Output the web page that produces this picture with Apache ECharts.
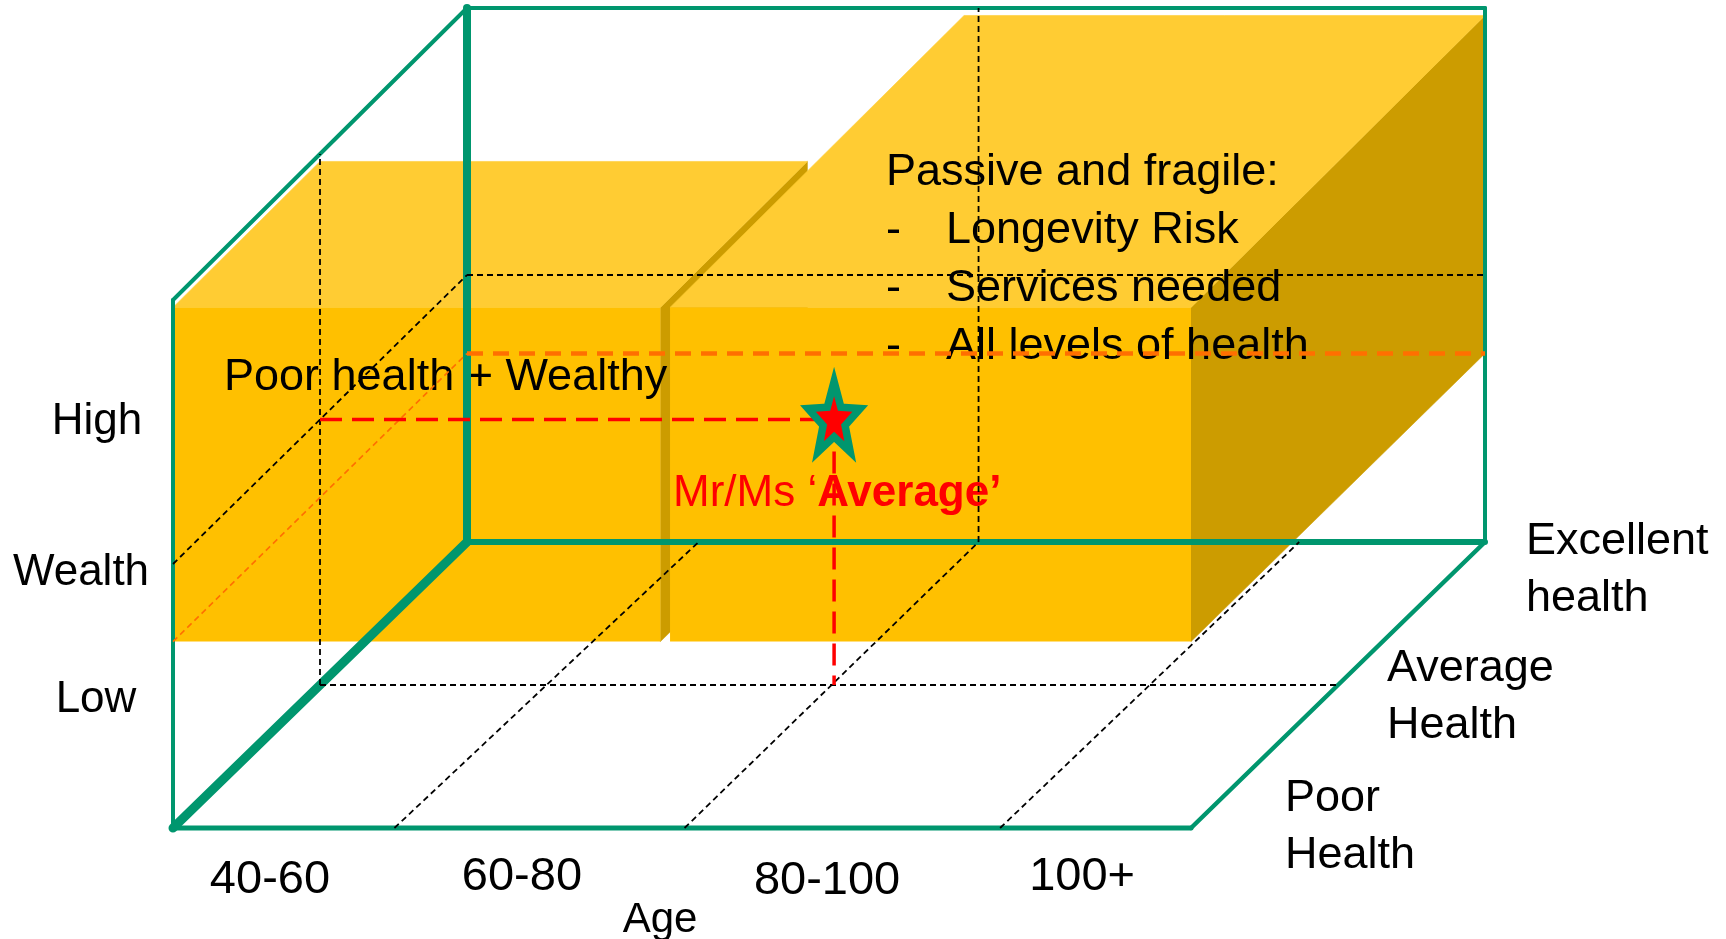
<!DOCTYPE html>
<html>
<head>
<meta charset="utf-8">
<title>Wealth, age and health segments</title>
<style>
  html, body { margin: 0; padding: 0; background: #ffffff; }
  #chart { width: 1726px; height: 939px; }
</style>
<script src="https://cdn.jsdelivr.net/npm/echarts@6/dist/echarts.min.js"></script>
</head>
<body>
<div id="chart"></div>
<script>
// ---------------------------------------------------------------------------
// Data: three axes — age bands (0..4), health (0 = poor .. 1 = excellent,
// drawn as depth) and wealth (0 = low .. 1 = high, drawn upwards).
// ---------------------------------------------------------------------------
const AGE_BANDS = ['40-60', '60-80', '80-100', '100+'];
const AGE_NAME = 'Age';
const HEALTH_LEVELS = ['Poor\nHealth', 'Average\nHealth', 'Excellent\nhealth'];
const WEALTH_TICKS = ['Low', 'High'];
const WEALTH_NAME = 'Wealth';

// Segment blocks: [ageFrom, ageTo, healthFrom, healthTo, wealthFrom, wealthTo]
const SEGMENTS = [
  [0, 1.915, 0, 0.5, 0.353, 0.986],
  [1.953, 4, 0, 1, 0.353, 0.986]
];
const SEGMENT_NOTES = [
  ['Poor health + Wealthy'],
  ['Passive and fragile:', 'Longevity Risk', 'Services needed', 'All levels of health']
];

// The average person: [age, health, wealth]
const AVERAGE_PERSON = [2.02, 0.5, 0.5];
const AVERAGE_LABEL = ['Mr/Ms \u2018', 'Average\u2019'];

// Level of the segment floor, traced on the left and back walls
const SEGMENT_FLOOR_WEALTH = 0.353;

// Box edges: pairs of [age, health, wealth] corners
const FRAME_EDGES = [
  [[0, 0, 0], [4, 0, 0]],
  [[4, 0, 0], [4, 1, 0]],
  [[0, 1, 0], [4, 1, 0]],
  [[0, 0, 0], [0, 1, 0]],
  [[0, 0, 0], [0, 0, 1]],
  [[0, 1, 0], [0, 1, 1]],
  [[4, 1, 0], [4, 1, 1]],
  [[0, 0, 1], [0, 1, 1]],
  [[0, 1, 1], [4, 1, 1]]
];

// Dashed reference lines inside the box
const GRID_GUIDES = [
  [[0, 0.5, 0], [0, 0.5, 1]],
  [[0, 0.5, 0], [4, 0.5, 0]],
  [[0, 0, 0.5], [0, 1, 0.5]],
  [[0, 1, 0.5], [4, 1, 0.5]],
  [[2.01, 1, 0], [2.01, 1, 1]],
  [[0.87, 0, 0], [0.91, 1, 0]],
  [[2.01, 0, 0], [2.01, 1, 0]],
  [[3.25, 0, 0], [3.27, 1, 0]]
];

// ---------------------------------------------------------------------------
// Oblique projection: health depth shifts a point right and up; the upward
// shift grows a little with wealth so the top of the box recedes further.
// Chart x is measured in age bands, chart y in wealth.
// ---------------------------------------------------------------------------
const AGE_PX = 254.5, WEALTH_PX = 528, ORIGIN_X = 173, ORIGIN_Y = 828;
const DEPTH_X = 294 / AGE_PX;
const W = 1726, H = 939;

function depthY(w) { return (286 + 6 * w) / WEALTH_PX; }
function project(p) {
  return [p[0] + DEPTH_X * p[1], p[2] + depthY(p[2]) * p[1]];
}

// Styles
const FONT = "'Liberation Sans', Arial, Helvetica, sans-serif";
const GREEN = '#00966E';
const FRONT = '#FFC000', TOP = '#FFCC33', SIDE = '#CC9C00';
const ORANGE = '#FF6F00', RED = '#FF0000';
const FRAME_WIDTHS = [5, 4.5, 6, 9, 4, 8, 4, 4, 4];
const TEXT_SHIFT = 4;

const segmentFloorGuides = [
  [[0, 0, SEGMENT_FLOOR_WEALTH], [0, 1, SEGMENT_FLOOR_WEALTH]],
  [[0, 1, SEGMENT_FLOOR_WEALTH], [4, 1, SEGMENT_FLOOR_WEALTH]]
];
const segmentFloorStyles = [
  { stroke: ORANGE, lineWidth: 1.6, lineDash: [6, 4] },
  { stroke: ORANGE, lineWidth: 4.5, lineDash: [16, 10] }
];
const [pa, ph, pw] = AVERAGE_PERSON;
const averageGuides = [
  [[0, ph, pw], [pa, ph, pw]],
  [[pa, ph, pw], [pa, ph, 0]]
];

function segmentSeries(segments, styleAt, z) {
  return {
    type: 'custom', z: z, silent: true, clip: false, animation: false,
    data: segments.map(([p, q]) => [...p, ...q]),
    renderItem(params, api) {
      const p = api.coord(project([api.value(0), api.value(1), api.value(2)]));
      const q = api.coord(project([api.value(3), api.value(4), api.value(5)]));
      return {
        type: 'line',
        shape: { x1: p[0], y1: p[1], x2: q[0], y2: q[1] },
        style: Object.assign({ fill: null, lineCap: 'round' }, styleAt(params.dataIndex))
      };
    }
  };
}

// Text placed at [age, health, wealth] anchors
const T = (text, at, opts) => Object.assign({ text, at }, opts || {});
const TEXTS = [
  T(WEALTH_TICKS[1], [-0.2986, 0, 0.7765], { align: 'center', size: 44 }),
  T(WEALTH_NAME, [-0.3615, 0, 0.4905], { align: 'center', size: 44 }),
  T(WEALTH_TICKS[0], [-0.3026, 0, 0.2509], { align: 'center', size: 44 }),
  T(AGE_BANDS[0], [0.381, 0, -0.0909], { align: 'center', size: 47 }),
  T(AGE_BANDS[1], [1.371, 0, -0.0852], { align: 'center', size: 47 }),
  T(AGE_BANDS[2], [2.570, 0, -0.0928], { align: 'center', size: 47 }),
  T(AGE_BANDS[3], [3.572, 0, -0.0852], { align: 'center', size: 47 }),
  T(AGE_NAME, [1.914, 0, -0.1667], { align: 'center', size: 42 }),
  T(HEALTH_LEVELS[0], [4.351, 0.0157, 0], { align: 'left' }),
  T(HEALTH_LEVELS[1], [4.227, 0.4702, 0], { align: 'left' }),
  T(HEALTH_LEVELS[2], [4.260, 0.9143, 0], { align: 'left' }),
  T(SEGMENT_NOTES[0][0], [0.2004, 0, 0.8598], { align: 'left' }),
  T(SEGMENT_NOTES[1][0], [2.8016, 0, 1.2481], { align: 'left' })
];
SEGMENT_NOTES[1].slice(1).forEach((item, i) => {
  TEXTS.push(T('-', [2.8016, 0, 1.2481], { align: 'left', dy: 57.7 * (i + 1) }));
  TEXTS.push(T(item, [2.8016, 0, 1.2481], { align: 'left', dx: 60, dy: 57.7 * (i + 1) }));
});
TEXTS.push(T('{n|' + AVERAGE_LABEL[0] + '}{b|' + AVERAGE_LABEL[1] + '}',
  [1.9646, 0, 0.6402], { align: 'left', color: RED, rich: true, size: 44 }));

function starPoints(cx, cy, rx, ry, inner) {
  const pts = [];
  for (let i = 0; i < 10; i++) {
    const ang = -Math.PI / 2 + i * Math.PI / 5;
    const k = i % 2 === 0 ? 1 : inner;
    pts.push([cx + Math.cos(ang) * rx * k, cy + Math.sin(ang) * ry * k]);
  }
  return pts;
}

// Points in the chart's own units come from project(); api.coord maps them to pixels,
// so the wealth-dependent depth has to be applied in the same units.
const chart = echarts.init(document.getElementById('chart'), null, { renderer: 'canvas' });

chart.setOption({
  backgroundColor: '#ffffff',
  animation: false,
  grid: { left: 0, right: 0, top: 0, bottom: 0, containLabel: false },
  xAxis: {
    type: 'value', show: false,
    min: -ORIGIN_X / AGE_PX, max: (W - ORIGIN_X) / AGE_PX
  },
  yAxis: {
    type: 'value', show: false,
    min: -(H - ORIGIN_Y) / WEALTH_PX, max: ORIGIN_Y / WEALTH_PX
  },
  series: [
    // Segment blocks
    {
      type: 'custom', z: 1, silent: true, clip: false, animation: false,
      data: SEGMENTS,
      renderItem(params, api) {
        const a0 = api.value(0), a1 = api.value(1), h0 = api.value(2),
              h1 = api.value(3), w0 = api.value(4), w1 = api.value(5);
        const pt = (a, h, w) => api.coord(project([a, h, w]));
        return {
          type: 'group',
          children: [
            { type: 'polygon', shape: { points: [pt(a1, h0, w0), pt(a1, h1, w0), pt(a1, h1, w1), pt(a1, h0, w1)] },
              style: { fill: SIDE, stroke: SIDE, lineWidth: 0.6 } },
            { type: 'polygon', shape: { points: [pt(a0, h0, w1), pt(a1, h0, w1), pt(a1, h1, w1), pt(a0, h1, w1)] },
              style: { fill: TOP, stroke: TOP, lineWidth: 0.6 } },
            { type: 'polygon', shape: { points: [pt(a0, h0, w0), pt(a1, h0, w0), pt(a1, h0, w1), pt(a0, h0, w1)] },
              style: { fill: FRONT } }
          ]
        };
      }
    },
    // Texts
    {
      type: 'custom', z: 2, silent: true, clip: false, animation: false,
      data: TEXTS.map((t, i) => [i]),
      renderItem(params, api) {
        const t = TEXTS[api.value(0)];
        const p = api.coord(project(t.at));
        const size = t.size || 45;
        const style = {
          text: t.text, fill: t.color || '#000000',
          fontSize: size, fontFamily: FONT,
          align: t.align, verticalAlign: 'middle', lineHeight: 57
        };
        if (t.rich) {
          style.rich = {
            n: { fill: RED, fontSize: size, fontFamily: FONT },
            b: { fill: RED, fontSize: size, fontFamily: FONT, fontWeight: 'bold' }
          };
        }
        return { type: 'text', x: p[0] + (t.dx || 0), y: p[1] + (t.dy || 0) + TEXT_SHIFT, style };
      }
    },
    // Box frame
    segmentSeries(FRAME_EDGES, i => ({ stroke: GREEN, lineWidth: FRAME_WIDTHS[i] }), 3),
    // Grid guides
    segmentSeries(GRID_GUIDES, () => ({ stroke: '#000000', lineWidth: 1.8, lineDash: [6, 4], lineCap: 'butt' }), 4),
    // Segment floor guides
    segmentSeries(segmentFloorGuides, i => Object.assign({ lineCap: 'butt' }, segmentFloorStyles[i]), 4),
    // Guides to the average person
    segmentSeries(averageGuides, () => ({ stroke: RED, lineWidth: 3.5, lineDash: [22, 10], lineCap: 'butt' }), 5),
    // The average person
    {
      type: 'custom', z: 6, silent: true, clip: false, animation: false,
      data: [AVERAGE_PERSON],
      renderItem(params, api) {
        const c = api.coord(project([api.value(0), api.value(1), api.value(2)]));
        return {
          type: 'polygon',
          shape: { points: starPoints(c[0], c[1] + 1, 27.5, 39, 0.42) },
          style: { fill: RED, stroke: GREEN, lineWidth: 7.5, lineJoin: 'miter', miterLimit: 10 }
        };
      }
    }
  ]
});
</script>
</body>
</html>
